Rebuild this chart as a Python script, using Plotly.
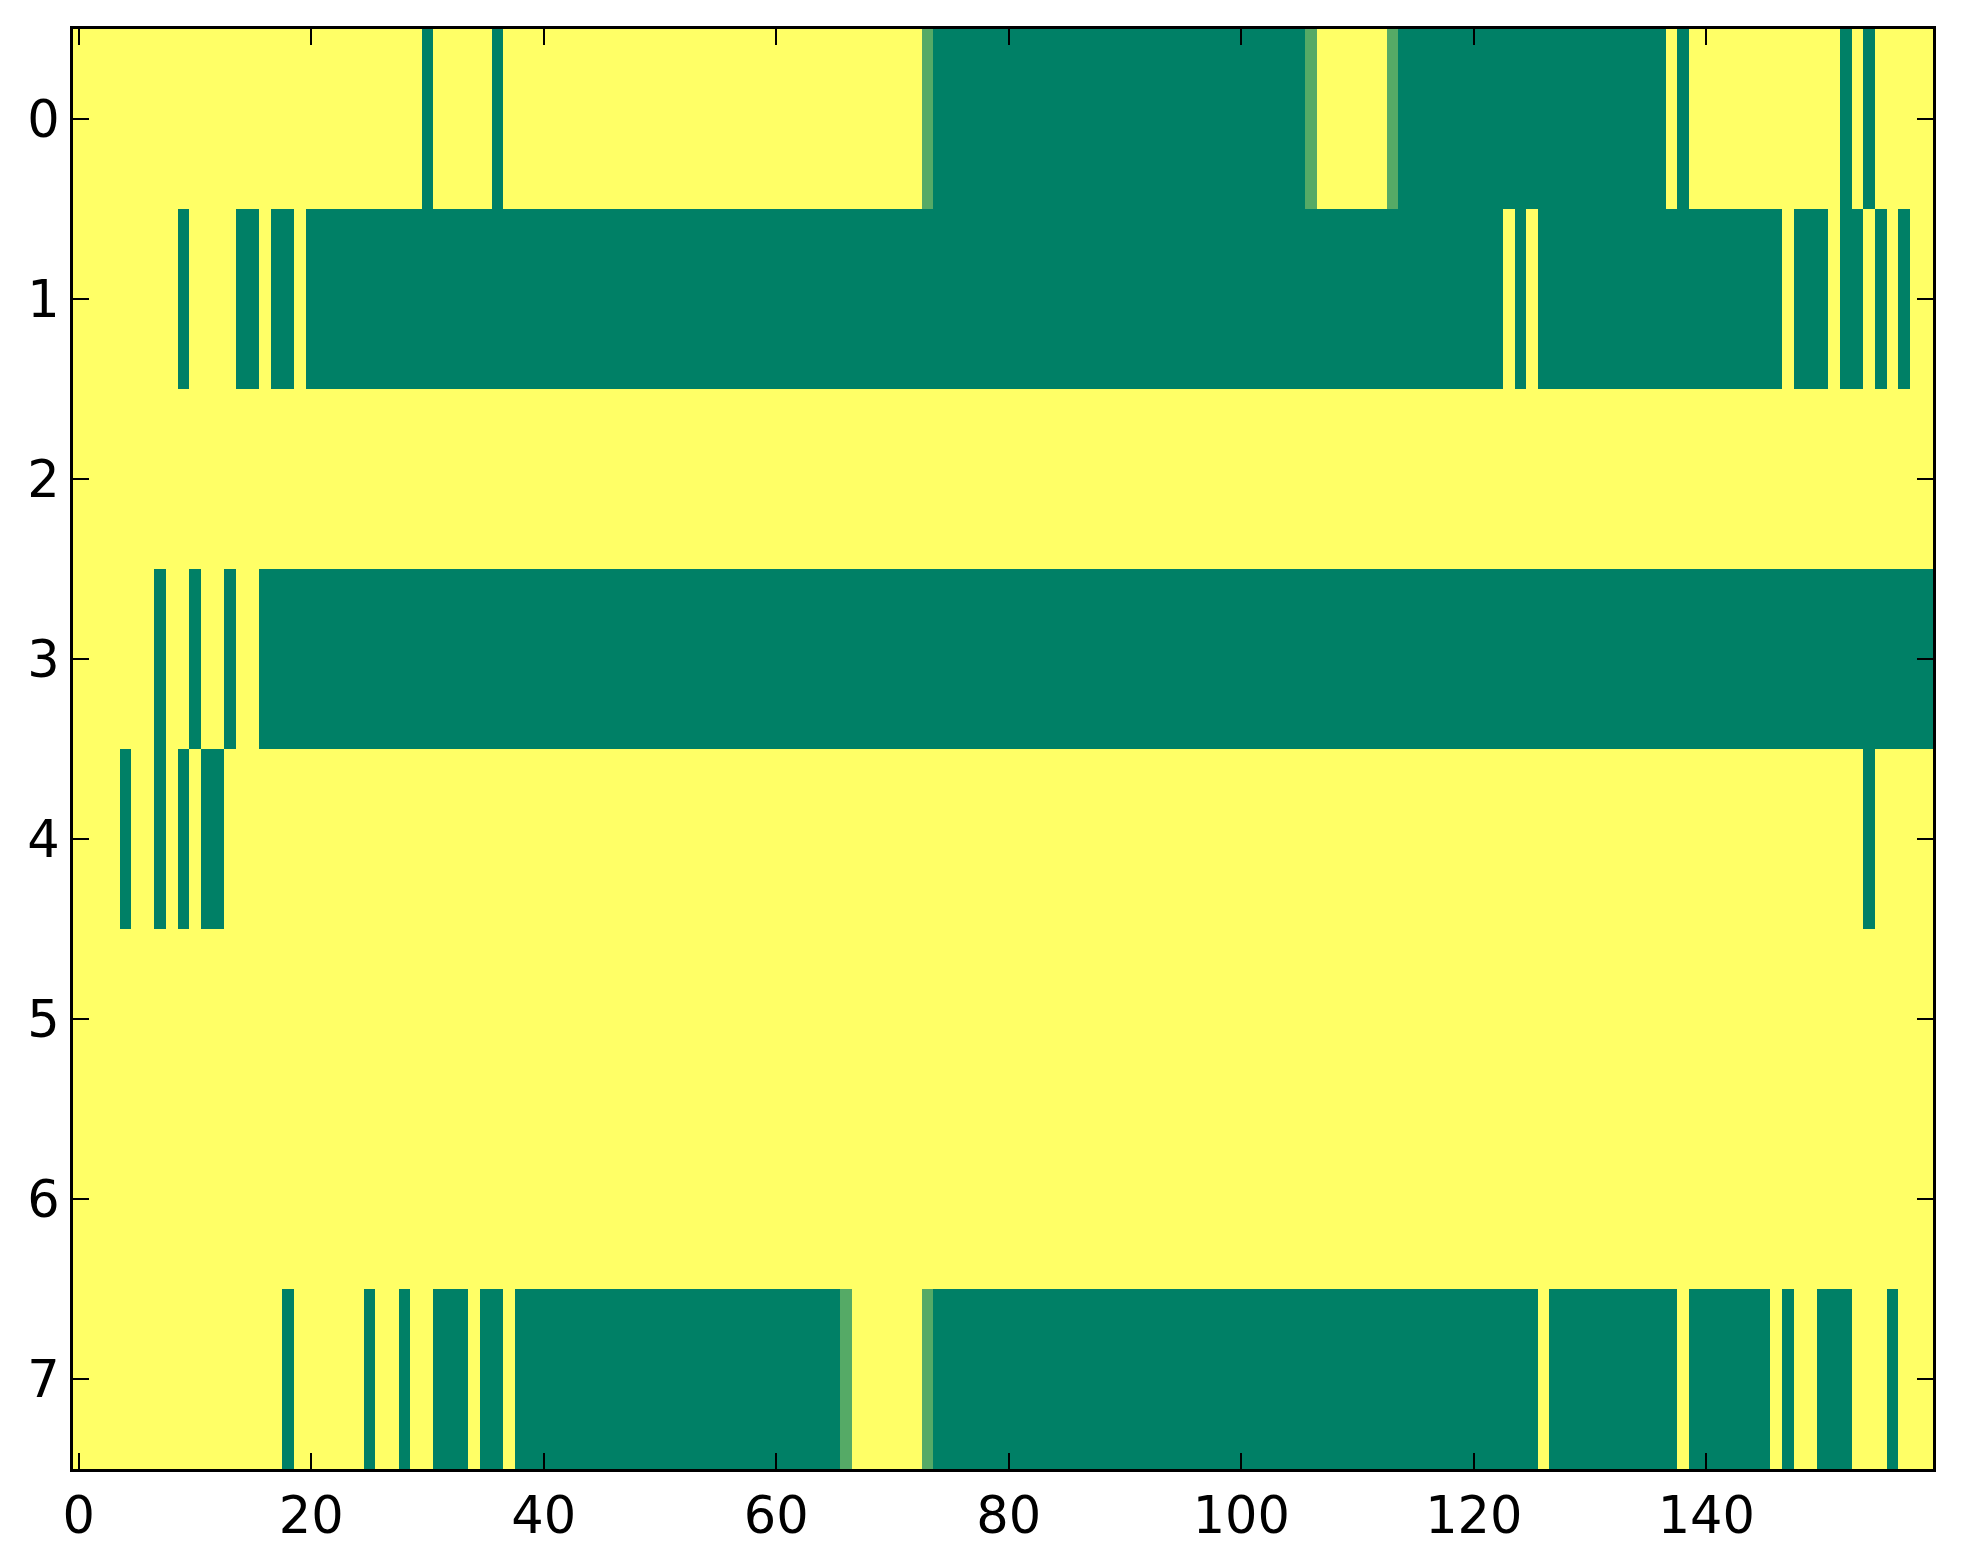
import plotly.graph_objects as go

# --- cell values ---
# one string per row, 160 columns, grouped by ten
# '1' = yellow (1.0), '0' = green (0.0), 'h' = light green (~1/3)
row0 = "1111111111 1111111111 1111111111 0111110111 1111111111 1111111111 1111111111 111h000000 0000000000 0000000000 000000h111 111h000000 0000000000 0000000101 1111111111 1101011111"
row1 = "1111111110 1111001001 0000000000 0000000000 0000000000 0000000000 0000000000 0000000000 0000000000 0000000000 0000000000 0000000000 0001010000 0000000000 0000000100 0100101011"
row2 = "1111111111 1111111111 1111111111 1111111111 1111111111 1111111111 1111111111 1111111111 1111111111 1111111111 1111111111 1111111111 1111111111 1111111111 1111111111 1111111111"
row3 = "1111111011 0110110000 0000000000 0000000000 0000000000 0000000000 0000000000 0000000000 0000000000 0000000000 0000000000 0000000000 0000000000 0000000000 0000000000 0000000000"
row4 = "1111011010 1001111111 1111111111 1111111111 1111111111 1111111111 1111111111 1111111111 1111111111 1111111111 1111111111 1111111111 1111111111 1111111111 1111111111 1111011111"
row5 = "1111111111 1111111111 1111111111 1111111111 1111111111 1111111111 1111111111 1111111111 1111111111 1111111111 1111111111 1111111111 1111111111 1111111111 1111111111 1111111111"
row6 = "1111111111 1111111111 1111111111 1111111111 1111111111 1111111111 1111111111 1111111111 1111111111 1111111111 1111111111 1111111111 1111111111 1111111111 1111111111 1111111111"
row7 = "1111111111 1111111101 1111101101 1000100100 0000000000 0000000000 000000h111 111h000000 0000000000 0000000000 0000000000 0000000000 0000001000 0000000010 0000001011 0001110111"

cell_value = {"1": 1.0, "0": 0.0, "h": 0.333}
x_ticks = [0, 20, 40, 60, 80, 100, 120, 140]
y_ticks = [0, 1, 2, 3, 4, 5, 6, 7]

rows = [row0, row1, row2, row3, row4, row5, row6, row7]
z = [[cell_value[c] for c in r.replace(" ", "")] for r in rows]
n_cols = len(z[0])

# matplotlib "summer" colormap
summer = [[0.0, "#008066"], [1.0, "#ffff66"]]

fig = go.Figure(go.Heatmap(
    z=z,
    colorscale=summer,
    zmin=0, zmax=1,
    showscale=False,
    hoverinfo="skip",
))

axis_style = dict(
    showline=True,
    linecolor="black",
    linewidth=3,
    mirror="ticks",
    ticks="inside",
    ticklen=16,
    tickwidth=2,
    tickcolor="black",
    showgrid=False,
    zeroline=False,
    automargin=False,
    tickfont=dict(family="DejaVu Sans", size=51, color="black"),
)

fig.update_xaxes(range=[-0.5, n_cols - 0.5], tickvals=x_ticks,
                 ticklabelstandoff=0, **axis_style)
fig.update_yaxes(range=[len(rows) - 0.5, -0.5], tickvals=y_ticks,
                 ticklabelstandoff=0, **axis_style)

# the page body adds an 8px offset, so the figure is a bit smaller
fig.update_layout(
    width=1947,
    height=1548,
    margin=dict(l=65, r=22, t=21, b=87),
    paper_bgcolor="white",
    plot_bgcolor="white",
)

fig.write_html("out.html")
